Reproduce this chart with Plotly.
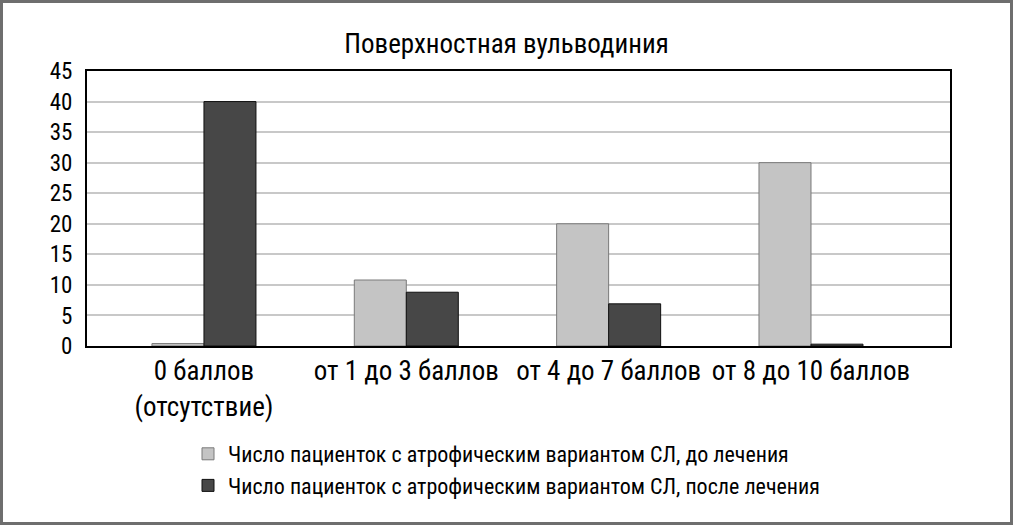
import plotly.graph_objects as go

categories = ["0 баллов<br>(отсутствие)", "от 1 до 3 баллов", "от 4 до 7 баллов", "от 8 до 10 баллов"]
before_values = [0.4, 10.8, 20.0, 30.0]
after_values = [40.0, 8.8, 6.9, 0.3]
series_names = ["Число пациенток с атрофическим вариантом СЛ, до лечения",
                "Число пациенток с атрофическим вариантом СЛ, после лечения"]
y_ticks = [0, 5, 10, 15, 20, 25, 30, 35, 40, 45]

FONT = "Roboto Condensed, Liberation Sans Narrow, Roboto, sans-serif"

W, H = 1013, 525
L, R, T, B = 87, 63, 71, 179
pw, ph = W - L - R, H - T - B

fig = go.Figure()
fig.add_trace(go.Bar(x=categories, y=before_values, name=series_names[0],
                     marker=dict(color="#c4c4c4", line=dict(color="#7a7a7a", width=1))))
fig.add_trace(go.Bar(x=categories, y=after_values, name=series_names[1],
                     marker=dict(color="#474747", line=dict(color="#111111", width=1))))

fig.update_layout(
    width=W, height=H,
    margin=dict(l=L, r=R, t=T, b=B),
    paper_bgcolor="white", plot_bgcolor="white",
    barmode="group", bargap=0.486, bargroupgap=0,
    font=dict(family=FONT, color="black"),
    title=dict(text="Поверхностная вульводиния", x=0.5, xanchor="center",
               y=1 - 44 / H, yanchor="middle", font=dict(size=27, family=FONT)),
    showlegend=True,
    legend=dict(x=(188 - L) / pw, y=-(433 - (H - B)) / ph, xanchor="left", yanchor="top",
                font=dict(size=22, family=FONT), tracegroupgap=0,
                bgcolor="rgba(0,0,0,0)"),
    xaxis=dict(showline=True, linecolor="black", linewidth=2, mirror=True,
               range=[-0.578, 3.687], tickangle=0,
               tickfont=dict(size=27, family=FONT), ticks="", showgrid=False),
    yaxis=dict(range=[0, 45], tickvals=y_ticks, showline=True, linecolor="black",
               linewidth=2, mirror=True, showgrid=True, gridcolor="#c8c8c8",
               gridwidth=2, ticks="", tickfont=dict(size=23, family=FONT),
               zeroline=False, ticklabelstandoff=8),
)

# outer frame around the whole picture
fig.add_shape(type="rect", xref="paper", yref="paper",
              x0=(1.5 - L) / pw, x1=(W - 1.5 - L) / pw,
              y0=-(B - 1.5) / ph, y1=1 + (T - 1.5) / ph,
              line=dict(color="#6e6e6e", width=3), fillcolor="rgba(0,0,0,0)", layer="below")

fig.write_html("out.html", config={"displayModeBar": False},
               post_script="document.body.style.margin='0';")
